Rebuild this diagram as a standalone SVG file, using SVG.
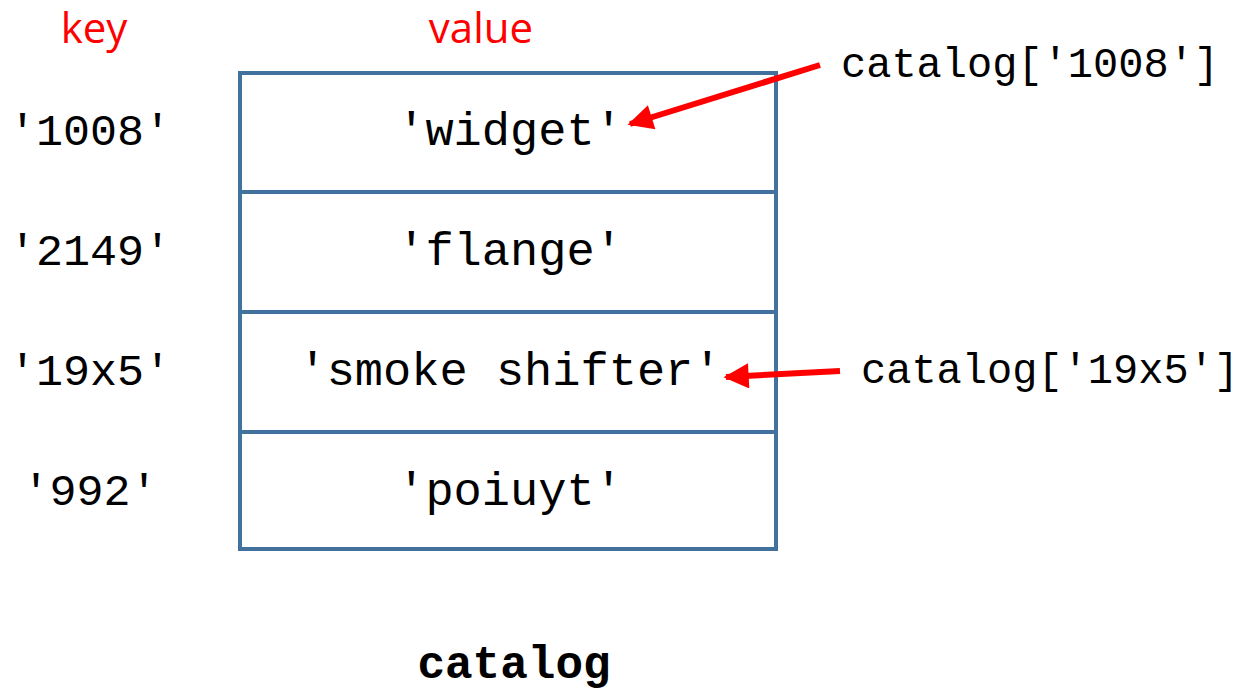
<svg xmlns="http://www.w3.org/2000/svg" width="1243" height="693" viewBox="0 0 1243 693">
  <style>
    .head { font-family: "Open Sans", "Liberation Sans", sans-serif; font-size: 42px; fill: #ff0000; text-anchor: middle; }
    .key { font-family: "Liberation Mono", "DejaVu Sans Mono", monospace; font-size: 45px; fill: #000; text-anchor: middle; }
    .val { font-family: "Liberation Mono", "DejaVu Sans Mono", monospace; font-size: 47px; fill: #000; text-anchor: middle; }
    .ref { font-family: "Liberation Mono", "DejaVu Sans Mono", monospace; font-size: 42px; fill: #000; }
    .cell { fill: #fff; stroke: #41719c; stroke-width: 4; }
    .arrow { stroke: #ff0000; stroke-width: 6; fill: none; marker-end: url(#head); }
  </style>
  <defs>
    <marker id="head" viewBox="0 0 10 10" refX="9" refY="5" markerWidth="4.4" markerHeight="4.2" orient="auto" markerUnits="strokeWidth">
      <path d="M0,0 L10,5 L0,10 Z" fill="#ff0000"/>
    </marker>
  </defs>

  <!-- column headings -->
  <text class="head" x="94" y="43">key</text>
  <text class="head" x="481" y="43">value</text>

  <!-- dictionary entries -->
  <g id="row-1008">
    <rect class="cell" x="240" y="73" width="536" height="119"/>
    <text class="key" x="90" y="145">'1008'</text>
    <text class="val" x="510" y="145">'widget'</text>
  </g>
  <g id="row-2149">
    <rect class="cell" x="240" y="192" width="536" height="120"/>
    <text class="key" x="90" y="265">'2149'</text>
    <text class="val" x="510" y="265">'flange'</text>
  </g>
  <g id="row-19x5">
    <rect class="cell" x="240" y="312" width="536" height="120"/>
    <text class="key" x="90" y="385">'19x5'</text>
    <text class="val" x="510" y="385">'smoke shifter'</text>
  </g>
  <g id="row-992">
    <rect class="cell" x="240" y="432" width="536" height="117"/>
    <text class="key" x="90" y="505">'992'</text>
    <text class="val" x="510" y="505">'poiuyt'</text>
  </g>

  <!-- lookup expressions -->
  <g id="lookup-1008">
    <text class="ref" x="841" y="77">catalog['1008']</text>
  </g>
  <g id="lookup-19x5">
    <text class="ref" x="861" y="383">catalog['19x5']</text>
  </g>

  <g id="connectors">
    <line class="arrow" x1="820" y1="65" x2="630" y2="124"/>
    <line class="arrow" x1="840" y1="371" x2="726" y2="377"/>
  </g>

  <text id="caption" x="514" y="678" font-family="Liberation Mono, DejaVu Sans Mono, monospace" font-size="46" font-weight="bold" text-anchor="middle">catalog</text>
</svg>
